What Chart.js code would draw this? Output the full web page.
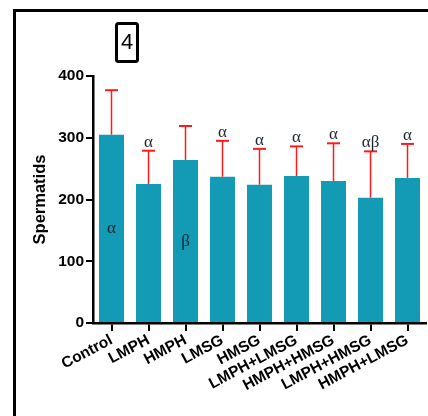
<!DOCTYPE html>
<html>
<head>
<meta charset="utf-8">
<script src="https://cdn.jsdelivr.net/npm/chart.js@4"></script>
<style>
  html, body { margin: 0; padding: 0; background: #fff; }
  #wrap { position: relative; width: 428px; height: 416px; }
</style>
</head>
<body>
<div id="wrap"><canvas id="spermChart"></canvas></div>
<script>
const groups = ['Control', 'LMPH', 'HMPH', 'LMSG', 'HMSG', 'LMPH+LMSG', 'HMPH+HMSG', 'LMPH+HMSG', 'HMPH+LMSG'];
const spermatids = [305, 225, 264, 237, 224, 238, 230, 203, 235];
const spermatidsSD = [72, 54, 55, 58, 58, 48, 61, 75, 55];
const letters = ['α', 'α', 'β', 'α', 'α', 'α', 'α', 'αβ', 'α'];
const letterInside = [true, false, true, false, false, false, false, false, false];
const yTicks = [0, 100, 200, 300, 400];

const barColor = '#139ab4';

// frame, panel tag, error bars and letters
const extras = {
  id: 'extras',
  beforeDraw(chart) {
    const c = chart.ctx;
    c.save();
    c.strokeStyle = '#000';
    c.lineWidth = 3;
    c.strokeRect(14.5, 10.5, 600, 600);
    // panel number box
    c.lineWidth = 3;
    c.beginPath();
    c.roundRect(116.5, 23.5, 21, 38, 2);
    c.stroke();
    c.fillStyle = '#000';
    c.font = '22px "Liberation Sans", Arial, sans-serif';
    c.textAlign = 'center';
    c.textBaseline = 'middle';
    c.fillText('4', 127, 43);
    c.restore();
  },
  afterDatasetsDraw(chart) {
    const c = chart.ctx;
    const y = chart.scales.y;
    const meta = chart.getDatasetMeta(0);
    c.save();
    meta.data.forEach((bar, i) => {
      const top = y.getPixelForValue(spermatids[i] + spermatidsSD[i]);
      const base = y.getPixelForValue(spermatids[i]);
      c.strokeStyle = '#ff1a1a';
      c.lineWidth = 1.5;
      c.beginPath();
      c.moveTo(bar.x, base);
      c.lineTo(bar.x, top);
      c.stroke();
      c.lineWidth = 2;
      c.beginPath();
      c.moveTo(bar.x - 6.5, top);
      c.lineTo(bar.x + 6.5, top);
      c.stroke();

      c.fillStyle = '#1c2530';
      c.font = '17px "Liberation Serif", "DejaVu Serif", serif';
      c.textAlign = 'center';
      if (letterInside[i]) {
        c.textBaseline = 'middle';
        c.fillText(letters[i], bar.x, y.getPixelForValue(spermatids[i] / 2));
      } else {
        c.textBaseline = 'alphabetic';
        c.fillText(letters[i], bar.x, top - 4);
      }
    });
    c.restore();
  }
};

const ctx = document.getElementById('spermChart').getContext('2d');
const spermChart = new Chart(ctx, {
  type: 'bar',
  data: {
    labels: groups,
    datasets: [{
      label: 'Spermatids',
      data: spermatids,
      backgroundColor: barColor,
      borderWidth: 0,
      barPercentage: 0.675,
      categoryPercentage: 1
    }]
  },
  options: {
    responsive: true,
    maintainAspectRatio: false,
    animation: false,
    layout: { padding: { top: 76, right: 2, left: 0, bottom: 0 } },
    scales: {
      x: {
        offset: true,
        afterFit: (s) => { s.height = 93; },
        border: { display: true, color: '#000', width: 2.5 },
        grid: { display: true, offset: false, drawOnChartArea: false, drawTicks: true, tickLength: 8, color: '#000', lineWidth: 2 },
        ticks: {
          color: '#000',
          minRotation: 28,
          maxRotation: 28,
          autoSkip: false,
          padding: 0,
          font: { family: '"Liberation Sans", Arial, sans-serif', size: 15.5, weight: 'bold' }
        }
      },
      y: {
        min: 0,
        max: 400,
        afterFit: (s) => { s.width = 93; },
        afterBuildTicks: (s) => { s.ticks = yTicks.map(v => ({ value: v })); },
        border: { display: true, color: '#000', width: 2.5 },
        grid: { display: true, drawOnChartArea: false, drawTicks: true, tickLength: 7, color: '#000', lineWidth: 2 },
        ticks: {
          color: '#000',
          padding: 2,
          font: { family: '"Liberation Sans", Arial, sans-serif', size: 15.5, weight: 'bold' }
        },
        title: {
          display: true,
          text: 'Spermatids',
          color: '#000',
          padding: { top: 31, bottom: 0 },
          font: { family: '"Liberation Sans", Arial, sans-serif', size: 16.5, weight: 'bold' }
        }
      }
    },
    plugins: {
      legend: { display: false },
      tooltip: { enabled: false }
    }
  },
  plugins: [extras]
});
</script>
</body>
</html>
